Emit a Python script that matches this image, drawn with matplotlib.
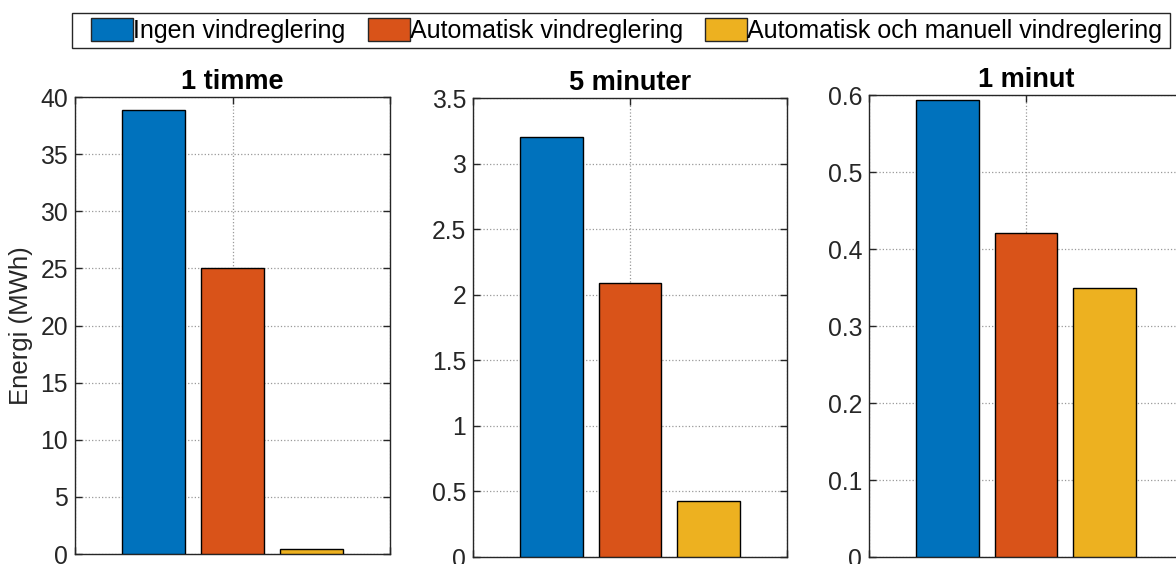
import matplotlib
matplotlib.use("Agg")
import matplotlib.pyplot as plt
from matplotlib.patches import Patch, Rectangle

plt.rcParams['font.family'] = ['Liberation Sans', 'DejaVu Sans']

# data
series = ["Ingen vindreglering", "Automatisk vindreglering", "Automatisk och manuell vindreglering"]
colors = ["#0072BD", "#D95319", "#EDB120"]
titles = ["1 timme", "5 minuter", "1 minut"]
vals_1h = [38.9, 25.0, 0.42]
vals_5m = [3.2, 2.09, 0.43]
vals_1m = [0.594, 0.421, 0.349]
yticks_1h = [0, 5, 10, 15, 20, 25, 30, 35, 40]
yticks_5m = [0, 0.5, 1, 1.5, 2, 2.5, 3, 3.5]
yticks_1m = [0, 0.1, 0.2, 0.3, 0.4, 0.5, 0.6]
ylabels_5m = ["0", "0.5", "1", "1.5", "2", "2.5", "3", "3.5"]
ylabels_1m = ["0", "0.1", "0.2", "0.3", "0.4", "0.5", "0.6"]

W, H = 1176, 564
fig = plt.figure(figsize=(W / 100, H / 100), dpi=100)

# axes rects (left, bottom, width, height) in figure fractions
rects = [(0.0638, 0.0177, 0.2679, 0.8103),
         (0.4022, 0.0124, 0.2670, 0.8138),
         (0.7390, 0.0124, 0.2670, 0.8190)]
data = [vals_1h, vals_5m, vals_1m]
yt = [yticks_1h, yticks_5m, yticks_1m]
ytl = [[str(v) for v in yticks_1h], ylabels_5m, ylabels_1m]
axcol = "#262626"

for i in range(3):
    ax = fig.add_axes(rects[i])
    x = [1, 2, 3]
    ax.bar(x, data[i], width=0.8, color=colors, edgecolor="black", linewidth=1.0, zorder=3)
    ax.set_xlim(0, 4)
    ax.set_ylim(yt[i][0], yt[i][-1])
    ax.set_yticks(yt[i])
    ax.set_yticklabels(ytl[i], fontsize=17.8, color=axcol)
    ax.set_xticks([0, 2, 4])
    ax.set_xticklabels([])
    ax.tick_params(direction="in", length=5, width=1, colors=axcol,
                   top=True, right=True, labelcolor=axcol, pad=5)
    ax.grid(True, linestyle=":", color="#999999", linewidth=0.9, zorder=0)
    for s in ax.spines.values():
        s.set_color(axcol)
        s.set_linewidth(1.0)
    ax.set_title(titles[i], fontsize=19.5, fontweight="bold", pad=6)
    if i == 0:
        ax.set_ylabel("Energi (MWh)", fontsize=18.5, color=axcol, labelpad=5)

# legend: entries without frame, frame drawn as a separate box
handles = [Patch(facecolor=c, edgecolor="#262626", linewidth=1.0) for c in colors]
leg = fig.legend(handles, series, loc="center left",
                 bbox_to_anchor=(91 / W, 1 - 30.5 / H),
                 ncol=3, fontsize=18, frameon=False,
                 handlelength=1.68, handleheight=1.0, handletextpad=0.0,
                 columnspacing=0.9, borderpad=0, borderaxespad=0)
fig.add_artist(Rectangle((72 / W, 1 - 48 / H), (1170 - 72) / W, 35 / H,
                         transform=fig.transFigure, fill=False,
                         edgecolor="#262626", linewidth=1.0))

fig.savefig("out.png", dpi=100)
